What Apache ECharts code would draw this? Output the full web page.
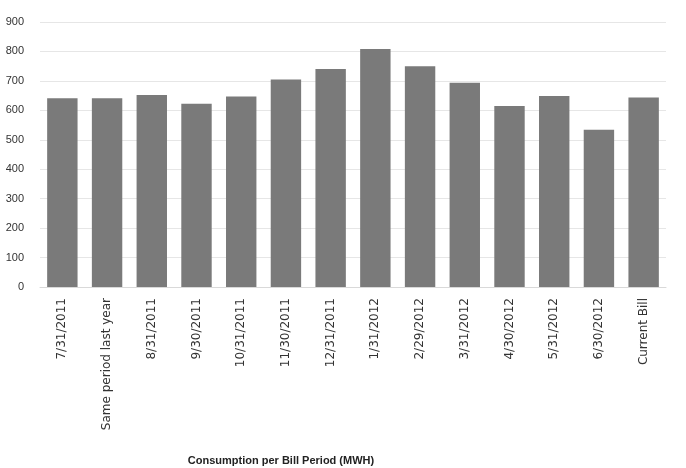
<!DOCTYPE html>
<html>
<head>
<meta charset="utf-8">
<script src="https://cdn.jsdelivr.net/npm/echarts@6/dist/echarts.min.js"></script>
<style>
html,body{margin:0;padding:0;background:#fff;}
#chart{width:686px;height:468px;}
</style>
</head>
<body>
<div id="chart"></div>
<script>
const categories = ['7/31/2011','Same period last year','8/31/2011','9/30/2011','10/31/2011','11/30/2011','12/31/2011','1/31/2012','2/29/2012','3/31/2012','4/30/2012','5/31/2012','6/30/2012','Current Bill'];
const consumption = [641, 641, 652, 622, 647, 705, 740, 808, 750, 694, 615, 649, 534, 644];
const yTicks = {min: 0, max: 900, interval: 100};
const titleText = 'Consumption per Bill Period (MWH)';

const chart = echarts.init(document.getElementById('chart'));
chart.setOption({
  backgroundColor: '#ffffff',
  animation: false,
  title: {
    text: titleText,
    left: 276,
    textAlign: 'center',
    top: 450,
    textStyle: {fontFamily: 'Liberation Sans', fontWeight: 'bold', fontSize: 11, color: '#222'}
  },
  grid: {left: 40, right: 20, top: 22, bottom: 181, containLabel: false},
  xAxis: {
    type: 'category',
    data: categories,
    axisLine: {show: true, lineStyle: {color: '#d9d9d9'}},
    axisTick: {show: false},
    axisLabel: {rotate: 90, interval: 0, margin: 11, fontFamily: 'DejaVu Sans', fontSize: 12, color: '#333'}
  },
  yAxis: {
    type: 'value',
    min: yTicks.min, max: yTicks.max, interval: yTicks.interval,
    axisLine: {show: false},
    axisTick: {show: false},
    splitLine: {lineStyle: {color: '#e6e6e6'}},
    axisLabel: {margin: 16, fontFamily: 'Liberation Sans', fontSize: 11, color: '#333'}
  },
  series: [{
    type: 'bar',
    data: consumption,
    barCategoryGap: '32%',
    itemStyle: {color: '#7a7a7a'}
  }]
});
</script>
</body>
</html>
